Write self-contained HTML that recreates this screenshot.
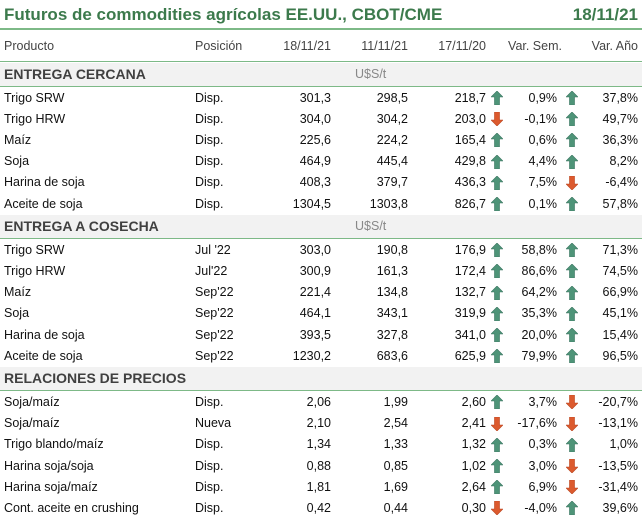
<!DOCTYPE html>
<html><head><meta charset="utf-8"><style>
body{margin:0;width:642px;height:516px;overflow:hidden;background:#fff;font-family:"Liberation Sans",sans-serif;color:#111;position:relative}
.a{position:absolute;white-space:nowrap}
.t{font-size:17px;font-weight:bold;color:#3c7a4c;top:5px}
.h{font-size:12.5px;color:#444}
.c{font-size:12.5px}
.s{font-size:14px;font-weight:bold;color:#404040}
.r{text-align:right}
.line{position:absolute;left:0;width:642px;background:#7db987}
.band{position:absolute;left:0;width:642px;height:23px;background:#f2f2f2}
</style></head><body>
<div class="a t" style="left:4px">Futuros de commodities agrícolas EE.UU., CBOT/CME</div>
<div class="a t" style="right:4px">18/11/21</div>
<div class="line" style="top:28px;height:2px"></div>
<div class="a h" style="left:4px;top:39px">Producto</div>
<div class="a h" style="left:195px;top:39px">Posición</div>
<div class="a h r" style="right:311px;top:39px">18/11/21</div>
<div class="a h r" style="right:234px;top:39px">11/11/21</div>
<div class="a h r" style="right:156px;top:39px">17/11/20</div>
<div class="a h r" style="right:80px;top:39px">Var. Sem.</div>
<div class="a h r" style="right:4px;top:39px">Var. Año</div>
<div class="line" style="top:61px;height:1px"></div>
<div id="body"></div>
<script>
const sections=["ENTREGA CERCANA","ENTREGA A COSECHA","RELACIONES DE PRECIOS"];
const units=["U$S/t","U$S/t",""];
const products=[["Trigo SRW","Trigo HRW","Maíz","Soja","Harina de soja","Aceite de soja"],["Trigo SRW","Trigo HRW","Maíz","Soja","Harina de soja","Aceite de soja"],["Soja/maíz","Soja/maíz","Trigo blando/maíz","Harina soja/soja","Harina soja/maíz","Cont. aceite en crushing"]];
const positions=[["Disp.","Disp.","Disp.","Disp.","Disp.","Disp."],["Jul '22","Jul'22","Sep'22","Sep'22","Sep'22","Sep'22"],["Disp.","Nueva","Disp.","Disp.","Disp.","Disp."]];
const v1=[["301,3","304,0","225,6","464,9","408,3","1304,5"],["303,0","300,9","221,4","464,1","393,5","1230,2"],["2,06","2,10","1,34","0,88","1,81","0,42"]];
const v2=[["298,5","304,2","224,2","445,4","379,7","1303,8"],["190,8","161,3","134,8","343,1","327,8","683,6"],["1,99","2,54","1,33","0,85","1,69","0,44"]];
const v3=[["218,7","203,0","165,4","429,8","436,3","826,7"],["176,9","172,4","132,7","319,9","341,0","625,9"],["2,60","2,41","1,32","1,02","2,64","0,30"]];
const vs=[["0,9%","-0,1%","0,6%","4,4%","7,5%","0,1%"],["58,8%","86,6%","64,2%","35,3%","20,0%","79,9%"],["3,7%","-17,6%","0,3%","3,0%","6,9%","-4,0%"]];
const va=[["37,8%","49,7%","36,3%","8,2%","-6,4%","57,8%"],["71,3%","74,5%","66,9%","45,1%","15,4%","96,5%"],["-20,7%","-13,1%","1,0%","-13,5%","-31,4%","39,6%"]];
const B=document.getElementById('body');
function txt(cls,style,t,name){const d=document.createElement('div');d.className='a '+cls;d.style.cssText=style;d.textContent=t;


B.appendChild(d);return d;}
function arrow(x,y,val,name){const up=val.trim()[0]!=='-';
const s=document.createElementNS('http://www.w3.org/2000/svg','svg');


s.setAttribute('width','12');s.setAttribute('height','14');
s.style.cssText='position:absolute;left:'+x+'px;top:'+y+'px';
const p=document.createElementNS('http://www.w3.org/2000/svg','polygon');
p.setAttribute('points',up?'6,0 12,6 8.5,6 8.5,14 3.5,14 3.5,6 0,6':'6,14 12,8 8.5,8 8.5,0 3.5,0 3.5,8 0,8');
p.setAttribute('fill',up?'#4e9478':'#dc5a2e');p.setAttribute('stroke',up?'#3a7560':'#b94520');p.setAttribute('stroke-width','0.6');
s.appendChild(p);B.appendChild(s);}
let y=62;
for(let k=0;k<3;k++){
 const band=document.createElement('div');band.className='band';band.style.top=(y+1)+'px';
 
 
 B.appendChild(band);
 txt('s','left:4px;top:'+(y+4)+'px',sections[k],'section-title');
 if(units[k])txt('h','left:355px;top:'+(y+5)+'px;color:#888',units[k],'section-unit');
 const ln=document.createElement('div');ln.className='line';ln.style.cssText='top:'+(y+24)+'px;height:1px';
 
 
 B.appendChild(ln);
 y+=25;
 for(let i=0;i<6;i++){
  const ty=y+3.5;
  txt('c','left:4px;top:'+ty+'px',products[k][i],'product-name');
  txt('c','left:195px;top:'+ty+'px',positions[k][i],'position');
  txt('c r','right:311px;top:'+ty+'px',v1[k][i],'value-current');
  txt('c r','right:234px;top:'+ty+'px',v2[k][i],'value-week-ago');
  txt('c r','right:156px;top:'+ty+'px',v3[k][i],'value-year-ago');
  arrow(491,y+4,vs[k][i],'arrow-var-sem');
  txt('c r','right:85px;top:'+ty+'px',vs[k][i],'var-sem');
  arrow(566,y+4,va[k][i],'arrow-var-ano');
  txt('c r','right:4px;top:'+ty+'px',va[k][i],'var-ano');
  y+=21.2;
 }
}
</script>
</body></html>
